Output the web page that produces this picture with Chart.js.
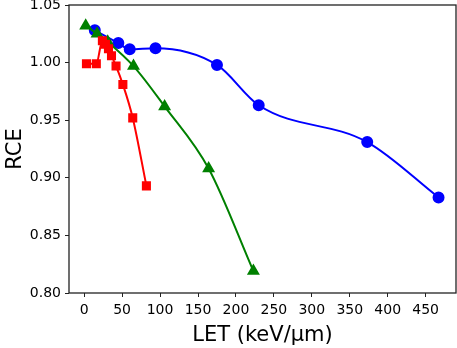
<!DOCTYPE html>
<html>
<head>
<meta charset="utf-8">
<script src="https://cdn.jsdelivr.net/npm/chart.js@4/dist/chart.umd.min.js"></script>
<style>
html,body{margin:0;padding:0;background:#fff;}
#wrap{width:457px;height:348px;}
</style>
</head>
<body>
<div id="wrap"><canvas id="c" width="457" height="348"></canvas></div>
<script>
const blueLET = [14, 45, 60, 94, 175, 230, 373, 467];
const blueRCE = [1.028, 1.017, 1.0115, 1.0125, 0.998, 0.963, 0.931, 0.883];
const greenLET = [2, 17, 31, 65, 106, 164, 223];
const greenRCE = [1.032, 1.025, 1.018, 0.997, 0.962, 0.908, 0.819];
const redLET = [3, 16, 24, 28, 32, 36, 42, 51, 64, 82];
const redRCE = [0.999, 0.999, 1.019, 1.016, 1.012, 1.006, 0.997, 0.981, 0.952, 0.893];
const xTicks = [0, 50, 100, 150, 200, 250, 300, 350, 400, 450];
const yTicks = [0.80, 0.85, 0.90, 0.95, 1.00, 1.05];

const pts = (xs, ys) => xs.map((x, i) => ({x: x, y: ys[i]}));
const FONT = "'DejaVu Sans', sans-serif";

const frame = {
  id: 'frame',
  afterDraw(chart) {
    const a = chart.chartArea, ctx = chart.ctx;
    ctx.save();
    ctx.strokeStyle = '#222';
    ctx.lineWidth = 1.3;
    ctx.strokeRect(a.left, a.top, a.right - a.left, a.bottom - a.top);
    ctx.restore();
  }
};

new Chart(document.getElementById('c'), {
  type: 'scatter',
  data: {
    datasets: [
      {data: pts(redLET, redRCE), borderColor: '#ff0000', backgroundColor: '#ff0000',
       pointStyle: 'rect', pointRadius: 5, showLine: true, cubicInterpolationMode: 'monotone', borderWidth: 2, order: 1},
      {data: pts(greenLET, greenRCE), borderColor: '#008000', backgroundColor: '#008000',
       pointStyle: 'triangle', pointRadius: 5.5, showLine: true, cubicInterpolationMode: 'monotone', borderWidth: 2, order: 2},
      {data: pts(blueLET, blueRCE), borderColor: '#0000ff', backgroundColor: '#0000ff',
       pointStyle: 'circle', pointRadius: 5, showLine: true, cubicInterpolationMode: 'monotone', borderWidth: 2, order: 3}
    ]
  },
  options: {
    responsive: false,
    animation: false,
    devicePixelRatio: 1,
    layout: {autoPadding: false, padding: {left: 0, right: 1, top: 5, bottom: 0}},
    plugins: {legend: {display: false}, tooltip: {enabled: false}},
    elements: {point: {borderWidth: 0, hoverRadius: 5}},
    scales: {
      x: {
        type: 'linear', min: -20, max: 490,
        afterBuildTicks: s => { s.ticks = xTicks.map(v => ({value: v})); },
        afterFit: s => { s.height = 55; s.paddingLeft = 0; s.paddingRight = 0; },
        ticks: {color: '#000', font: {family: FONT, size: 14}, padding: 5, maxRotation: 0,
                callback: v => String(v)},
        grid: {drawOnChartArea: false, tickLength: 4, color: '#222', tickWidth: 1},
        border: {display: false},
        title: {display: true, text: 'LET (keV/μm)', color: '#000', font: {family: FONT, size: 21}, padding: {top: 6, bottom: 0}}
      },
      y: {
        type: 'linear', min: 0.80, max: 1.05,
        afterBuildTicks: s => { s.ticks = yTicks.map(v => ({value: v})); },
        afterFit: s => { s.width = 69; s.paddingTop = 0; s.paddingBottom = 0; },
        ticks: {color: '#000', font: {family: FONT, size: 14}, padding: 4,
                callback: v => Number(v).toFixed(2)},
        grid: {drawOnChartArea: false, tickLength: 4, color: '#222', tickWidth: 1},
        border: {display: false},
        title: {display: true, text: 'RCE', color: '#000', font: {family: FONT, size: 21}, padding: {top: 3, bottom: 4}}
      }
    }
  },
  plugins: [frame]
});
</script>
</body>
</html>
